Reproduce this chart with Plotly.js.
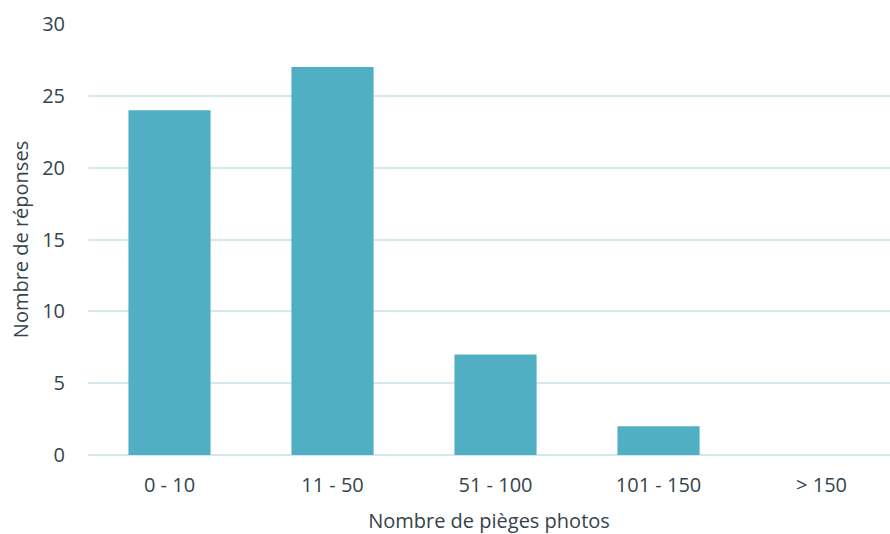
<!DOCTYPE html>
<html><head><meta charset="utf-8">
<script src="https://cdn.plot.ly/plotly-3.0.1.min.js"></script>
<style>html,body{margin:0;padding:0;background:#fff}#c{width:890px;height:534px}</style>
</head><body><div id="c"></div>
<script>
var categories = ["0 - 10", "11 - 50", "51 - 100", "101 - 150", "> 150"];
var responses = [24, 27, 7, 2, 0];
var yTicks = [0, 5, 10, 15, 20, 25, 30];

var font = "Open Sans, Noto Sans, sans-serif";
var txt = "#34444c";
Plotly.newPlot("c", [{
  type: "bar", x: categories, y: responses,
  marker: {color: "#51afc3", line: {width: 0}},
  hoverinfo: "x+y"
}], {
  width: 890, height: 534,
  margin: {l: 88, r: 0, t: 24, b: 79},
  bargap: 0.496,
  paper_bgcolor: "#fff", plot_bgcolor: "#fff",
  font: {family: font, color: txt, size: 20},
  showlegend: false,
  xaxis: {
    type: "category", range: [-0.5, 4.42], showgrid: false, zeroline: false, showline: false,
    ticks: "outside", ticklen: 12, tickcolor: "rgba(0,0,0,0)", tickfont: {size: 20, color: txt},
    title: {text: "Nombre de pièges photos", font: {size: 20, color: txt}, standoff: 16}
  },
  yaxis: {
    range: [0, 30], tickvals: yTicks, showgrid: true, gridcolor: "#d4e8ed", gridwidth: 2,
    zeroline: true, zerolinecolor: "#d4e8ed", zerolinewidth: 2, showline: false,
    ticks: "outside", ticklen: 18, tickcolor: "rgba(0,0,0,0)",
    tickfont: {size: 20, color: txt},
    title: {text: "Nombre de réponses", font: {size: 20, color: txt}, standoff: 8}
  }
}, {displayModeBar: false, staticPlot: true});
</script></body></html>
